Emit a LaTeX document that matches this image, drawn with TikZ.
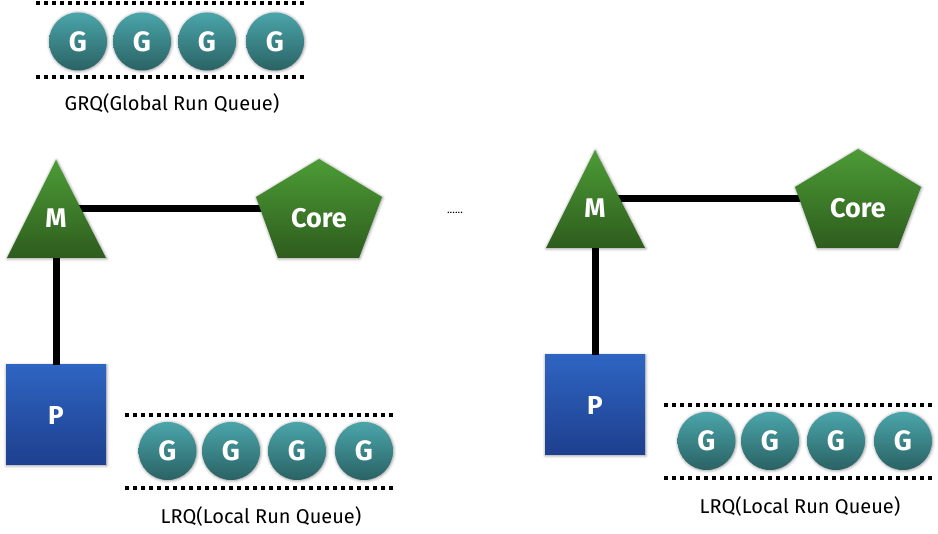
\documentclass[tikz,border=0pt]{standalone}
\usepackage{fontspec}
\setmainfont{Fira Sans}
\usetikzlibrary{shadows.blur}
\definecolor{gtop}{HTML}{4AA5AA}
\definecolor{gbot}{HTML}{2A6264}
\definecolor{ntop}{HTML}{4C9C36}
\definecolor{nbot}{HTML}{2E5C1D}
\definecolor{ptop}{HTML}{2E65C2}
\definecolor{pbot}{HTML}{1E3F8E}
\tikzset{
  shd/.style={blur shadow={shadow xshift=0.5pt, shadow yshift=-0.5pt, shadow blur radius=3pt, shadow opacity=45}},
  gball/.style={circle, minimum size=58pt, inner sep=0pt, top color=gtop, bottom color=gbot, text=white, shd,
    font=\bfseries\fontsize{28}{28}\selectfont},
  pbox/.style={rectangle, minimum size=100pt, inner sep=0pt, top color=ptop, bottom color=pbot, text=white, shd,
    font=\bfseries\fontsize{26}{26}\selectfont},
  nshape/.style={top color=ntop, bottom color=nbot, shd},
  nlabel/.style={text=white, font=\bfseries\fontsize{27}{27}\selectfont, inner sep=0pt},
  qline/.style={line width=3.5pt, dash pattern=on 3.5pt off 4.5pt},
  conn/.style={line width=7pt},
  qlabel/.style={font=\fontsize{20}{20}\selectfont, inner sep=0pt},
}
\begin{document}
\begin{tikzpicture}[x=1pt,y=-1pt]
\useasboundingbox (0,0) rectangle (938,534);
% global run queue
\coordinate (ga1) at (36,3);
\coordinate (gb1) at (304,3);
\coordinate (ga2) at (36,77);
\coordinate (gb2) at (304,77);
\draw[qline] (ga1) -- (gb1);
\draw[qline] (ga2) -- (gb2);
\node[gball] (G01) at (78,41.5) {G};
\node[gball] (G02) at (142,41.5) {G};
\node[gball] (G03) at (207,41.5) {G};
\node[gball] (G04) at (275,41.5) {G};
\node[qlabel] (grq) at (172,104) {GRQ(Global Run Queue)};
\node[font=\fontsize{11}{11}\selectfont, inner sep=0pt] (dots) at (455,213) {......};
\foreach \s/\dx/\dy in {1/0/0, 2/539/-10} {
  \begin{scope}[shift={(\dx,\dy)}]
    \coordinate (mh\s) at (56,209);
    \coordinate (ch\s) at (319,209);
    \coordinate (mv\s) at (56,240);
    \draw[conn] (mh\s) -- (ch\s);
    \node[pbox] (P\s) at (56,415) {P};
    \draw[conn] (mv\s) -- (P\s.north);
    \path[nshape] (56,160) -- (106,258) -- (7,258) -- cycle;
    \node[nlabel] (M\s) at (56,218) {M};
    \path[nshape] (319,159) -- (382,197) -- (359,258) -- (278,258) -- (256,197) -- cycle;
    \node[nlabel] (C\s) at (319,218) {Core};
    \coordinate (la\s) at (125,415);
    \coordinate (lb\s) at (393,415);
    \coordinate (lc\s) at (125,488);
    \coordinate (ld\s) at (393,488);
    \draw[qline] (la\s) -- (lb\s);
    \draw[qline] (lc\s) -- (ld\s);
    \node[gball] (L\s a) at (167.5,451) {G};
    \node[gball] (L\s b) at (231,451) {G};
    \node[gball] (L\s c) at (297,451) {G};
    \node[gball] (L\s d) at (364,451) {G};
    \node[qlabel] (lrq\s) at (261,517) {LRQ(Local Run Queue)};
  \end{scope}
}
\end{tikzpicture}
\end{document}
